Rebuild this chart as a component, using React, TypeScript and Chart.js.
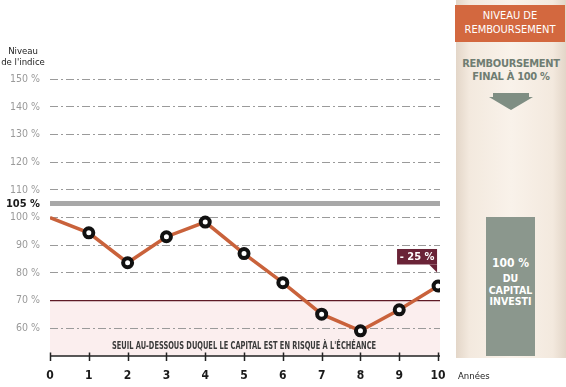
import React, { useEffect, useRef } from "react";
import { Chart, registerables } from "chart.js";

Chart.register(...registerables);

const years = [0, 1, 2, 3, 4, 5, 6, 7, 8, 9, 10];
const indexLevels = [100, 94.5, 83.7, 93.1, 98.4, 87.0, 76.5, 65.1, 59.1, 66.7, 75.3];
const yTickValues = [60, 70, 80, 90, 100, 105, 110, 120, 130, 140, 150];
const riskThreshold = 70;
const barrierLevel = 105;
const finalLabel = "- 25 %";
const riskText = "SEUIL AU-DESSOUS DUQUEL LE CAPITAL EST EN RISQUE À L'ÉCHÉANCE";

const COND = '"DejaVu Sans Condensed", "Liberation Sans Narrow", "Roboto", sans-serif';

const overlayPlugin = {
  id: "overlay",
  beforeDraw(chart: any) {
    const { ctx, chartArea, scales } = chart;
    const y = scales.y;
    const top = y.getPixelForValue(riskThreshold);
    const bottom = y.getPixelForValue(50);
    ctx.save();
    ctx.fillStyle = "#fbeeee";
    ctx.fillRect(chartArea.left, top, chartArea.right - chartArea.left, bottom - top);
    ctx.restore();
  },
  afterDraw(chart: any) {
    const { ctx, chartArea, scales } = chart;
    const x = scales.x;
    const y = scales.y;
    ctx.save();
    // risk text (horizontally condensed)
    ctx.fillStyle = "#3a3a3a";
    ctx.font = `bold 10px ${COND}`;
    ctx.textAlign = "center";
    ctx.textBaseline = "middle";
    ctx.save();
    ctx.translate(x.getPixelForValue(5), y.getPixelForValue(53.6));
    ctx.scale(0.74, 1);
    ctx.fillText(riskText, 0, 0);
    ctx.restore();
    // x axis line & ticks
    const ay = y.getPixelForValue(50);
    ctx.strokeStyle = "#222";
    ctx.lineWidth = 1.5;
    ctx.beginPath();
    ctx.moveTo(chartArea.left, ay);
    ctx.lineTo(chartArea.right, ay);
    years.forEach((v) => {
      const px = Math.round(x.getPixelForValue(v)) + 0.5;
      ctx.moveTo(px, ay - 3.5);
      ctx.lineTo(px, ay + 5);
    });
    ctx.stroke();
    // annotation
    const meta = chart.getDatasetMeta(0);
    const pt = meta.data[meta.data.length - 1];
    const px = pt.x;
    const py = pt.y;
    const bx = px - 41;
    const by = py - 37;
    const bw = 40;
    const bh = 15.5;
    ctx.fillStyle = "#6a2337";
    ctx.fillRect(bx, by, bw, bh);
    ctx.beginPath();
    ctx.moveTo(bx + bw - 8, by + bh);
    ctx.lineTo(bx + bw, by + bh);
    ctx.lineTo(bx + bw, by + bh + 8);
    ctx.closePath();
    ctx.fill();
    ctx.fillStyle = "#ffffff";
    ctx.font = `bold 11px ${COND}`;
    ctx.fillText(finalLabel, bx + bw / 2, by + bh / 2 + 0.5);
    // y axis title
    ctx.fillStyle = "#222";
    ctx.font = `9.5px ${COND}`;
    ctx.fillText("Niveau", 23, 52);
    ctx.fillText("de l'indice", 23, 63);
    // x axis title
    ctx.textAlign = "left";
    ctx.fillText("Années", 458, 377);
    ctx.restore();
  },
};

export default function App() {
  const ref = useRef<HTMLCanvasElement | null>(null);

  useEffect(() => {
    if (!ref.current) return;
    const chart = new Chart(ref.current, {
      type: "line",
      data: {
        datasets: [
          {
            data: years.map((v, i) => ({ x: v, y: indexLevels[i] })),
            borderColor: "#c9623b",
            borderWidth: 3.5,
            pointRadius: (c: any) => (c.dataIndex === 0 ? 0 : 4.5),
            pointBorderWidth: 4,
            pointBorderColor: "#111",
            pointBackgroundColor: "#fff",
            tension: 0,
          },
        ],
      },
      options: {
        animation: false,
        responsive: false,
        maintainAspectRatio: false,
        layout: { padding: { top: 70, right: 126, left: 0, bottom: 0 } },
        plugins: { legend: { display: false }, tooltip: { enabled: false } },
        scales: {
          x: {
            type: "linear",
            min: 0,
            max: 10.05,
            afterBuildTicks: (s: any) => {
              s.ticks = years.map((v) => ({ value: v }));
            },
            afterFit: (s: any) => {
              s.height = 31;
            },
            grid: { display: false },
            border: { display: false },
            ticks: {
              padding: 5,
              color: "#1a1a1a",
              font: { family: COND, weight: "bold", size: 12 },
              callback: (v: any) => String(v),
            },
          },
          y: {
            type: "linear",
            min: 50,
            max: 153.35,
            afterBuildTicks: (s: any) => {
              s.ticks = yTickValues.map((v) => ({ value: v }));
            },
            afterFit: (s: any) => {
              s.width = 50;
            },
            grid: {
              drawTicks: false,
              color: (c: any) =>
                c.tick?.value === barrierLevel
                  ? "#a8a8a8"
                  : c.tick?.value === riskThreshold
                  ? "#5e1a25"
                  : "#9a9a9a",
              lineWidth: (c: any) =>
                c.tick?.value === barrierLevel ? 5 : c.tick?.value === riskThreshold ? 1.3 : 1,
            },
            border: {
              display: false,
              dash: (c: any) =>
                c.tick?.value === barrierLevel || c.tick?.value === riskThreshold ? [] : [8, 3, 2, 3],
            },
            ticks: {
              padding: 10,
              color: (c: any) => (c.tick?.value === barrierLevel ? "#1a1a1a" : "#9a9a9a"),
              font: (c: any) =>
                c.tick?.value === barrierLevel
                  ? { family: COND, weight: "bold", size: 11 }
                  : { family: COND, size: 10.5 },
              callback: (v: any) => `${v} %`,
            },
          },
        },
      },
      plugins: [overlayPlugin],
    } as any);
    return () => chart.destroy();
  }, []);

  const panelText: React.CSSProperties = {
    position: "absolute",
    left: 0,
    width: "100%",
    textAlign: "center",
    fontFamily: COND,
    fontWeight: "bold",
  };

  return (
    <div style={{ position: "absolute", left: 0, top: 0, width: 566, height: 387, background: "#fff", overflow: "hidden" }}>
      <div
        style={{
          position: "absolute",
          left: 456,
          top: 0,
          width: 110,
          height: 358,
          background:
            "linear-gradient(to right, #e3d6c8 0%, #f3e9de 12%, #f9f2ea 50%, #f3e9de 88%, #e3d6c8 100%)",
        }}
      >
        <div
          style={{
            position: "absolute",
            left: -1,
            top: 5,
            width: 110,
            height: 37,
            background: "#d3683f",
            color: "#fff",
            fontFamily: COND,
            fontSize: 11,
            lineHeight: "14px",
            textAlign: "center",
            paddingTop: 4,
            boxSizing: "border-box",
          }}
        >
          NIVEAU DE
          <br />
          REMBOURSEMENT
        </div>
        <div
          style={{
            ...panelText,
            top: 57,
            color: "#6f7d72",
            fontSize: 11,
            lineHeight: "13px",
            letterSpacing: "-0.3px",
          }}
        >
          REMBOURSEMENT
          <br />
          FINAL À 100 %
        </div>
        <svg style={{ position: "absolute", left: 30, top: 93 }} width={50} height={20}>
          <polygon points="7,0 43,0 43,4 47,4 25,17 3,4 7,4" fill="#7f8e83" />
        </svg>
        <div
          style={{
            position: "absolute",
            left: 30,
            top: 217,
            width: 49,
            height: 139,
            background: "#8b978d",
          }}
        >
          <div style={{ ...panelText, top: 39, color: "#fff", fontSize: 12, lineHeight: "14px" }}>100 %</div>
          <div style={{ ...panelText, top: 56, color: "#fff", fontSize: 10.5, lineHeight: "11.5px" }}>
            DU
            <br />
            CAPITAL
            <br />
            INVESTI
          </div>
        </div>
      </div>
      <canvas ref={ref} width={566} height={387} style={{ position: "absolute", left: 0, top: 0 }} />
    </div>
  );
}
